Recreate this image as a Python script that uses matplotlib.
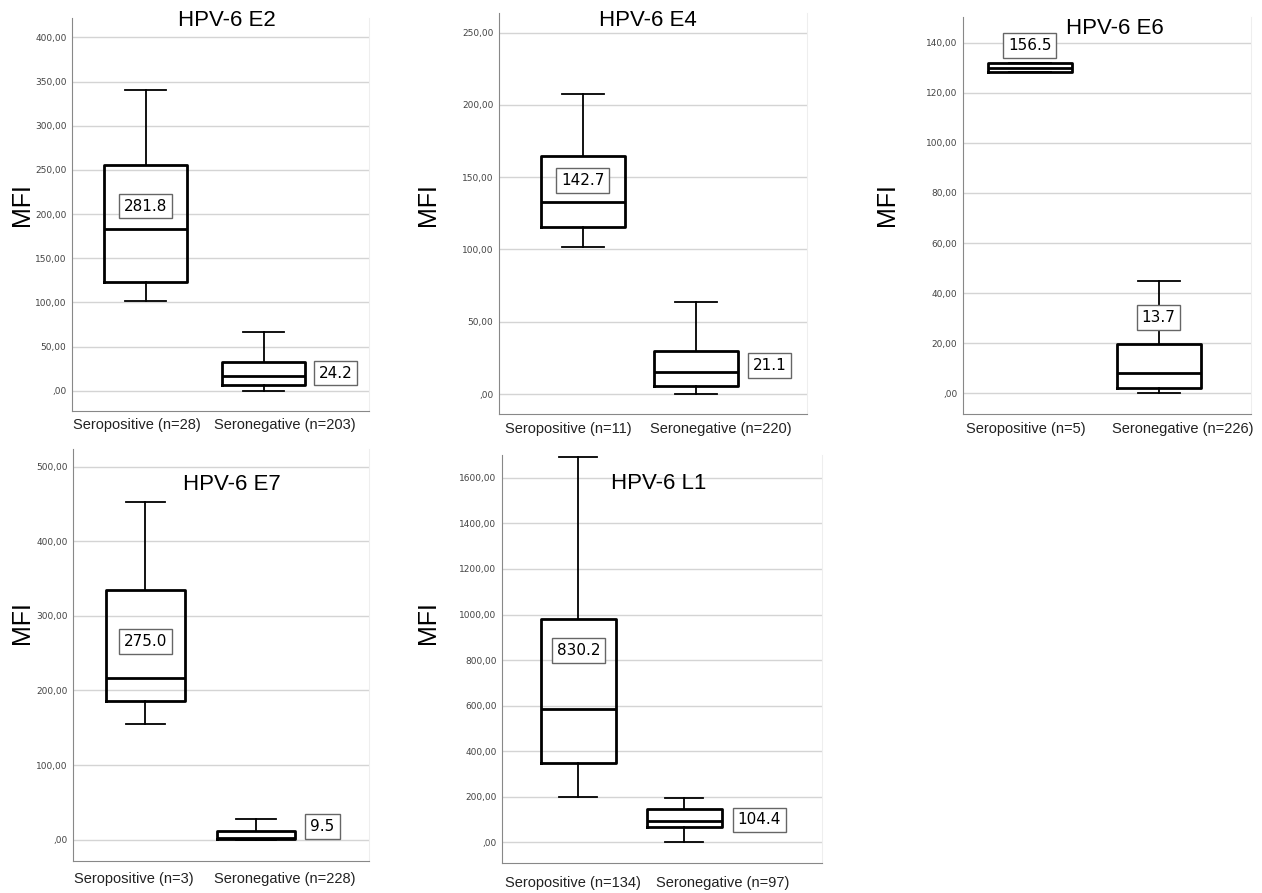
import numpy as np
import matplotlib
matplotlib.use('Agg')
from matplotlib import pyplot as plt

plt.rcParams['font.family'] = ['Liberation Sans', 'DejaVu Sans']

W, H = 1262, 893

titles = ['HPV-6 E2', 'HPV-6 E4', 'HPV-6 E6', 'HPV-6 E7', 'HPV-6 L1']
xlabels = [['Seropositive (n=28)', 'Seronegative (n=203)'],
           ['Seropositive (n=11)', 'Seronegative (n=220)'],
           ['Seropositive (n=5)', 'Seronegative (n=226)'],
           ['Seropositive (n=3)', 'Seronegative (n=228)'],
           ['Seropositive (n=134)', 'Seronegative (n=97)']]

# five-number summaries: whisker low, Q1, median, Q3, whisker high
pos_stats = [[101, 123, 183, 255, 340],
             [101.7, 115.3, 132.8, 164.6, 207.4],
             [128.2, 128.2, 129.9, 132, 132],
             [155, 185.5, 216.4, 334.2, 452.4],
             [198.5, 350, 586, 981, 1690]]
neg_stats = [[0, 6, 17, 32, 67],
             [0, 5.3, 15.2, 30.1, 63.5],
             [0, 2.0, 8.1, 19.8, 45.0],
             [0, 0.5, 2.2, 11.6, 28.2],
             [4, 66, 96, 147, 194]]

# boxed values written on the chart
pos_labels = ['281.8', '142.7', '156.5', '275.0', '830.2']
neg_labels = ['24.2', '21.1', '13.7', '9.5', '104.4']
pos_label_y = [209, 147.8, 138.9, 265.6, 842]
neg_label_y = [20, 19.5, 30.4, 17.9, 99]
neg_label_x = [2.61, 2.65, 2.0, 2.6, 2.71]

yticks = [np.arange(0, 401, 50), np.arange(0, 251, 50), np.arange(0, 141, 20),
          np.arange(0, 501, 100), np.arange(0, 1601, 200)]

# layout (pixels): axes left, right, top, bottom
boxes_px = [(72, 369, 18, 411), (499, 807, 13, 414), (963, 1251, 17, 414),
            (73, 369, 449, 861), (502, 822, 455, 863)]
ylims = [(-23, 422), (-13.8, 263.5), (-8.2, 150.2), (-28.8, 524), (-90, 1700)]
xlims = [(0.377, 2.894), (0.259, 2.98), (0.484, 2.716), (0.347, 3.02), (0.28, 3.30)]
tick_x = [(0.93, 2.18), (0.87, 2.22), (0.97, 2.19), (0.9, 2.26), (0.95, 2.36)]
tick_pad = [5, 6, 6, 8, 9]
title_px = [(227, 20), (648, 21), (1115, 28), (232, 484), (659, 483)]
mfi_px = [(22, 205), (428, 205), (887, 205), (22, 623), (428, 623)]
box_w = [0.70, 0.74, 0.65, 0.71, 0.71]


def fmt(v):
    s = f'{v:.2f}'.replace('.', ',')
    return s[1:] if s.startswith('0') else s


fig = plt.figure(figsize=(W / 100, H / 100), dpi=100)
fig.patch.set_facecolor('white')

for i in range(5):
    l, r, t, b = boxes_px[i]
    ax = fig.add_axes([l / W, 1 - b / H, (r - l) / W, (b - t) / H])
    stats = []
    for s in (pos_stats[i], neg_stats[i]):
        stats.append(dict(whislo=s[0], q1=s[1], med=s[2], q3=s[3], whishi=s[4], fliers=[]))
    ax.bxp(stats, positions=[1, 2], widths=box_w[i], showfliers=False,
           boxprops=dict(color='black', lw=2),
           medianprops=dict(color='black', lw=2),
           whiskerprops=dict(color='black', lw=1.3),
           capprops=dict(color='black', lw=1.3), capwidths=box_w[i] * 0.5)
    ax.set_xlim(*xlims[i])
    ax.set_ylim(*ylims[i])
    ax.set_yticks(yticks[i])
    ax.set_yticklabels([fmt(v) for v in yticks[i]], fontsize=6.5, color='#444444',
                       family='DejaVu Sans')
    ax.set_xticks(tick_x[i])
    ax.set_xticklabels(xlabels[i], fontsize=10.5, color='#222222')
    ax.tick_params(axis='y', length=0, pad=4)
    ax.tick_params(axis='x', length=0, pad=tick_pad[i])
    ax.yaxis.grid(True, color='#d4d4d4', lw=1)
    ax.set_axisbelow(True)
    ax.spines['top'].set_visible(False)
    ax.spines['right'].set_color('#eeeeee')
    ax.spines['left'].set_color('#888888')
    ax.spines['bottom'].set_color('#888888')

    bb = dict(boxstyle='square,pad=0.32', fc='white', ec='#666666', lw=1)
    ax.text(1, pos_label_y[i], pos_labels[i], ha='center', va='center', fontsize=11,
            family='DejaVu Sans', bbox=bb, zorder=5)
    ax.text(neg_label_x[i], neg_label_y[i], neg_labels[i], ha='center', va='center', fontsize=11,
            family='DejaVu Sans', bbox=bb, zorder=5)

    fig.text(title_px[i][0] / W, 1 - title_px[i][1] / H, titles[i], ha='center', va='center', fontsize=16)
    fig.text(mfi_px[i][0] / W, 1 - mfi_px[i][1] / H, 'MFI', ha='center', va='center', rotation=90, fontsize=18)

fig.savefig('out.png', dpi=100)
